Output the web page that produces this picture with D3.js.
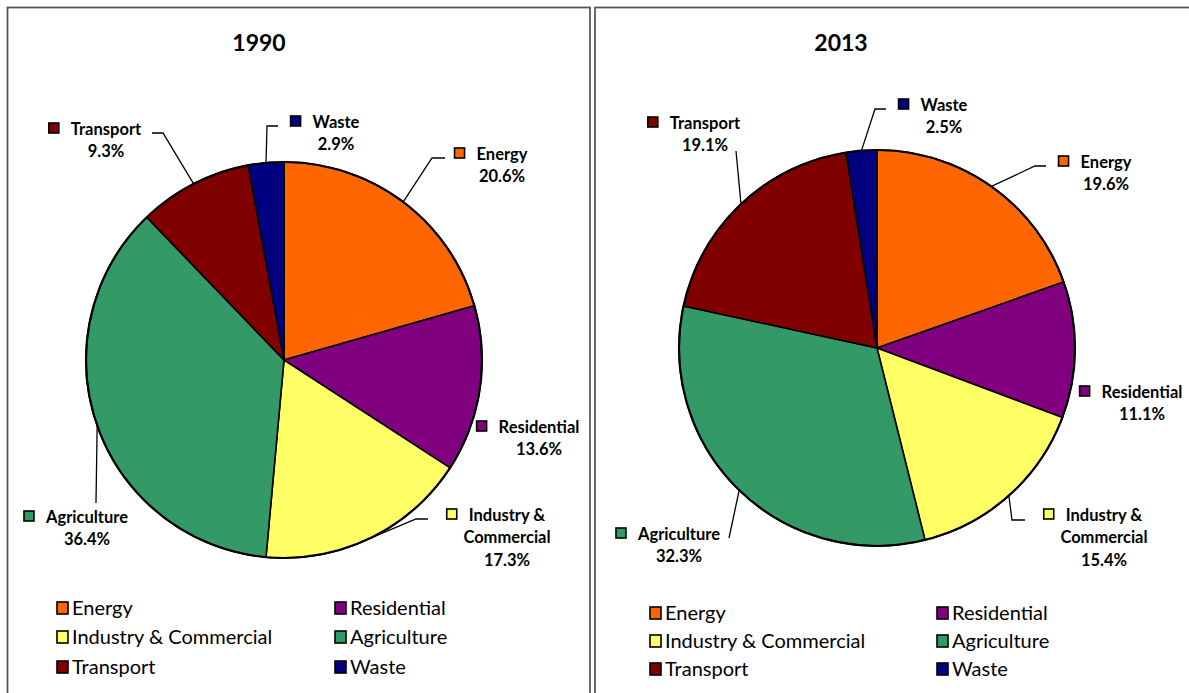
<!DOCTYPE html>
<html>
<head>
<meta charset="utf-8">
<script src="https://cdn.jsdelivr.net/npm/d3@7/dist/d3.min.js"></script>
<style>
  html, body { margin: 0; padding: 0; background: #ffffff; }
  svg { display: block; }
</style>
</head>
<body>
<svg id="chart" width="1189" height="693"></svg>
<script>
// Greenhouse gas emissions by sector, share of total (%)
const categories = ["Energy", "Residential", "Industry & Commercial", "Agriculture", "Transport", "Waste"];
const labelLines = [["Energy"], ["Residential"], ["Industry &", "Commercial"], ["Agriculture"], ["Transport"], ["Waste"]];
const colors = ["#FF6600", "#800080", "#FFFF66", "#339966", "#800000", "#000080"];
const years = ["1990", "2013"];
const values1990 = [20.6, 13.6, 17.3, 36.4, 9.3, 2.9];
const values2013 = [19.6, 11.1, 15.4, 32.3, 19.1, 2.5];
const seriesValues = [values1990, values2013];

// Panel layout: frame, pie centre, title, data labels, leader lines, legend
const panels = [
  {
    frame: { x: 7.5, w: 582.5 },
    cx: 284, cy: 360, r: 198,
    title: { x: 259, y: 51 },
    labels: [
      { x: 502, y: 154, lead: [[445, 158], [432, 158]] },
      { x: 539, y: 427, lead: null },
      { x: 507, y: 515, lead: [[428, 519], [416, 519]] },
      { x: 87, y: 517, lead: [[96, 503]] },
      { x: 106, y: 129, lead: [[152, 133], [163, 133]] },
      { x: 336, y: 122, lead: [[278, 126], [267, 126]] }
    ],
    legend: { x: [57, 335], y: [608, 637, 667] }
  },
  {
    frame: { x: 595, w: 620 },
    cx: 877, cy: 348, r: 198,
    title: { x: 841, y: 51 },
    labels: [
      { x: 1106, y: 162, lead: [[1046, 166], [1035, 166]] },
      { x: 1142, y: 392, lead: null },
      { x: 1104, y: 515, lead: [[1025, 520], [1012, 520]] },
      { x: 679, y: 534, lead: [[729, 538]] },
      { x: 705, y: 123, lead: [[736, 151]] },
      { x: 944, y: 105, lead: [[886, 109], [875, 109]] }
    ],
    legend: { x: [650, 937], y: [613, 641, 669] }
  }
];

const svg = d3.select("#chart");
const pie = d3.pie().sort(null).value(d => d);
const fmt = v => d3.format(".1f")(v) + "%";
const labelFont = "Lato, 'Open Sans', sans-serif";
const lineGap = 22.5;

panels.forEach((p, pi) => {
  const values = seriesValues[pi];
  const arcs = pie(values);
  const arc = d3.arc().innerRadius(0).outerRadius(p.r);

  // chart frame (bottom edge runs past the visible area)
  svg.append("rect")
    .attr("x", p.frame.x).attr("y", 7.5)
    .attr("width", p.frame.w).attr("height", 760)
    .attr("fill", "none").attr("stroke", "#555555").attr("stroke-width", 1.75);

  // title
  svg.append("text")
    .attr("x", p.title.x).attr("y", p.title.y)
    .attr("text-anchor", "middle")
    .attr("font-family", labelFont).attr("font-weight", "bold").attr("font-size", 23)
    .attr("fill", "#000").text(years[pi]);

  // slices
  const g = svg.append("g").attr("transform", `translate(${p.cx},${p.cy})`);
  g.selectAll("path").data(arcs).join("path")
    .attr("d", arc)
    .attr("fill", (d, i) => colors[i])
    .attr("stroke", "#000").attr("stroke-width", 1.6).attr("stroke-linejoin", "round");
  // outer rim drawn a touch heavier
  g.append("circle").attr("r", p.r).attr("fill", "none").attr("stroke", "#000").attr("stroke-width", 2.2);

  // leader lines: from label side to the slice's mid-angle on the rim
  arcs.forEach((d, i) => {
    const L = p.labels[i];
    if (!L.lead) return;
    const a = (d.startAngle + d.endAngle) / 2;
    const edge = [p.cx + p.r * Math.sin(a), p.cy - p.r * Math.cos(a)];
    const pts = L.lead.concat([edge]);
    svg.append("path")
      .attr("d", d3.line()(pts))
      .attr("fill", "none").attr("stroke", "#000").attr("stroke-width", 1.3);
  });

  // data labels: marker + category lines + percentage
  arcs.forEach((d, i) => {
    const L = p.labels[i];
    const lines = labelLines[i].concat([fmt(values[i])]);
    const t = svg.append("text")
      .attr("font-family", labelFont).attr("font-weight", "bold").attr("font-size", 16.5)
      .attr("fill", "#000").attr("text-anchor", "middle");
    lines.forEach((s, k) => {
      t.append("tspan").attr("x", L.x).attr("y", L.y + k * lineGap).attr("dy", "0.36em").text(s);
    });
    const first = t.select("tspan").node();
    const w = first.getComputedTextLength();
    const left = L.x - w / 2;
    svg.append("rect")
      .attr("x", left - 22).attr("y", L.y - 6)
      .attr("width", 10).attr("height", 10)
      .attr("fill", colors[i]).attr("stroke", "#000").attr("stroke-width", 1.6);
  });

  // legend: two columns, three rows
  categories.forEach((c, i) => {
    const lx = p.legend.x[i % 2];
    const ly = p.legend.y[Math.floor(i / 2)];
    svg.append("rect")
      .attr("x", lx).attr("y", ly - 6)
      .attr("width", 11).attr("height", 12)
      .attr("fill", colors[i]).attr("stroke", "#000").attr("stroke-width", 1.6);
    svg.append("text")
      .attr("x", lx + 15).attr("y", ly).attr("dy", "0.36em")
      .attr("font-family", labelFont).attr("font-size", 20)
      .attr("fill", "#000").text(c);
  });
});
</script>
</body>
</html>
